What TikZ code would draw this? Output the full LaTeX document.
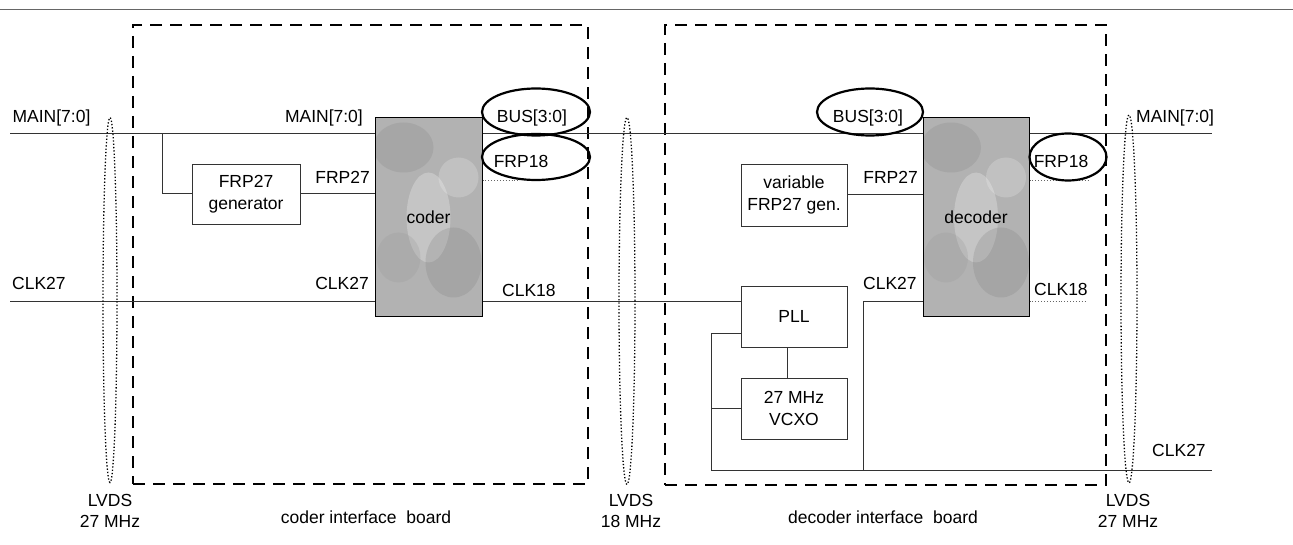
\documentclass[tikz,border=0pt]{standalone}
\usepackage{fontspec}
\setmainfont{Liberation Sans}
\usetikzlibrary{shapes.geometric,calc}
\begin{document}
\begin{tikzpicture}[x=1pt,y=-1pt,
  every node/.style={font=\fontsize{17.5}{21.5}\selectfont, inner sep=0pt},
  wire/.style={line width=1pt, black!80},
  dotwire/.style={line width=0.9pt, black!60, dotted},
  board/.style={draw, line width=2.9pt, dash pattern=on 12pt off 8pt},
  chip/.style={draw, line width=1pt, fill=black!30, minimum width=107pt, minimum height=199pt,
    path picture={
      \fill[black!45, opacity=0.3] ($(path picture bounding box.center)+(-25,-70)$) ellipse (30 and 25);
      \fill[white, opacity=0.25] ($(path picture bounding box.center)+(0,0)$) ellipse (22 and 45);
      \fill[black!50, opacity=0.25] ($(path picture bounding box.center)+(25,45)$) ellipse (28 and 35);
      \fill[black!40, opacity=0.25] ($(path picture bounding box.center)+(-30,40)$) ellipse (22 and 25);
      \fill[white, opacity=0.2] ($(path picture bounding box.center)+(30,-40)$) ellipse (20 and 20);
    }},
  blk/.style={draw, line width=0.9pt, black!80, text=black, minimum width=106pt, minimum height=61pt, align=center},
  sig/.style={ellipse, draw, line width=2.2pt},
  lvds/.style={ellipse, draw, dotted, line width=1.3pt},
  two/.style={align=center}
]
\useasboundingbox (0,0) rectangle (1293,545);
% header rule
\draw[black!60, line width=1pt] (0,10) -- (1293,10);

% boards
\node[board, minimum width=455pt, minimum height=459pt] (cboard) at (360.5,254.5) {};
\node[board, minimum width=441pt, minimum height=460pt] (dboard) at (885.5,255) {};

% chips and blocks
\node[chip] (coder) at (428.5,217.5) {coder};
\node[chip, minimum width=106pt] (decoder) at (976,217.5) {decoder};
\node[blk, minimum width=108pt, minimum height=60pt] (gen) at (246,194) {FRP27\\generator};
\node[blk, minimum height=62pt] (vgen) at (794,195) {variable\\FRP27 gen.};
\node[blk] (pll) at (794,316.5) {PLL};
\node[blk] (vcxo) at (794,408.5) {27 MHz\\VCXO};

% coordinates
\coordinate (mainL) at (10,134);
\coordinate (br) at (162,134);
\coordinate (clkL) at (10,302);
\coordinate (c18) at (482,302);
\coordinate (busY) at (600,134);
\coordinate (mainR) at (1212,134);
\coordinate (pvx) at (787,360);
\coordinate (lpT) at (711,333);
\coordinate (lpB) at (711,470);
\coordinate (clkR) at (1212,470);
\coordinate (tap) at (863,470);
\coordinate (d27) at (863,302);
\coordinate (fC) at (520,180);
\coordinate (fD) at (1090,180);
\coordinate (cD) at (1087,301);

% wires
\draw[wire] (mainL) -- (mainL -| coder.west);
\draw[wire] (br) |- (gen.west);
\draw[wire] (gen.east) -- (gen.east -| coder.west);
\draw[wire] (clkL) -- (clkL -| coder.west);
\draw[wire] (c18 -| coder.east) -- (c18 -| pll.west);
\draw[wire] (busY -| coder.east) -- (busY -| decoder.west);
\draw[wire] (mainR -| decoder.east) -- (mainR);
\draw[wire] (vgen.east) -- (vgen.east -| decoder.west);
\draw[wire] (pll.south -| pvx) -- (vcxo.north -| pvx);
\draw[wire] (lpT -| pll.west) -- (lpT) -- (lpB) -- (clkR);
\draw[wire] (vcxo.west) -- (vcxo.west -| lpT);
\draw[wire] (tap) -- (d27) -- (d27 -| decoder.west);
\draw[dotwire] (fC -| coder.east) -- (fC);
\draw[dotwire] (fD -| decoder.east) -- (fD);
\draw[dotwire] (cD -| decoder.east) -- (cD);

% signal ellipses
\node[sig, minimum width=108pt, minimum height=47pt] (busC) at (536,112) {};
\node[sig, minimum width=108pt, minimum height=46pt] (frpC) at (536,157) {};
\node[sig, minimum width=106pt, minimum height=47pt] (busD) at (870,112) {};
\node[sig, minimum width=77pt, minimum height=47pt] (frpD) at (1068,157) {};
\node (busCt) at (532,118) {BUS[3:0]};
\node (frpCt) at (521,161) {FRP18};
\node (busDt) at (868,118) {BUS[3:0]};
\node (frpDt) at (1061,161) {FRP18};

% LVDS ellipses
\node[lvds, minimum width=14pt, minimum height=365pt] (lvdsA) at (110,300) {};
\node[lvds, minimum width=16pt, minimum height=367pt] (lvdsB) at (627,301) {};
\node[lvds, minimum width=16pt, minimum height=368pt] (lvdsC) at (1129,299) {};

% signal labels
\node (mainLt) at (51.5,118) {MAIN[7:0]};
\node[anchor=east] (mainCt) at (363,118) {MAIN[7:0]};
\node[anchor=east] (frp27C) at (370,177) {FRP27};
\node[anchor=west] (clk27L) at (12,283) {CLK27};
\node[anchor=east] (clk27C) at (369,283) {CLK27};
\node[anchor=west] (clk18C) at (502,290) {CLK18};
\node[anchor=east] (frp27D) at (918,177) {FRP27};
\node[anchor=west] (clk27D) at (863,283) {CLK27};
\node[anchor=west] (clk18D) at (1034,289) {CLK18};
\node[anchor=west] (mainRt) at (1136,118) {MAIN[7:0]};
\node[anchor=west] (clk27R) at (1152,450) {CLK27};

% bottom labels
\node[two] (lvdsAt) at (110,511) {LVDS\\27 MHz};
\node[two] (lvdsBt) at (631,511) {LVDS\\18 MHz};
\node[two] (lvdsCt) at (1128,511) {LVDS\\27 MHz};
\node (cboardt) at (366,517) {coder interface~ board};
\node (dboardt) at (883,517) {decoder interface~ board};
\end{tikzpicture}
\end{document}
